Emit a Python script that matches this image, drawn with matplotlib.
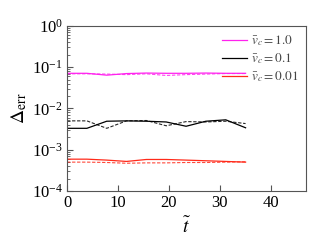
import matplotlib
matplotlib.use("Agg")
import matplotlib.pyplot as plt
import numpy as np

t = [0, 3.9, 7.8, 11.7, 15.6, 19.5, 23.4, 27.3, 31.2, 35.1]
mag_solid = [0.071, 0.071, 0.064, 0.070, 0.072, 0.071, 0.071, 0.072, 0.071, 0.071]
mag_dash = [0.069, 0.069, 0.068, 0.066, 0.069, 0.063, 0.066, 0.068, 0.070, 0.070]
blk_solid = [0.0033, 0.0033, 0.0049, 0.0050, 0.0049, 0.0047, 0.0037, 0.0049, 0.0053, 0.0034]
blk_dash = [0.0050, 0.0050, 0.0033, 0.0050, 0.0051, 0.0038, 0.0048, 0.0047, 0.0049, 0.0043]
red_solid = [0.00059, 0.00059, 0.00056, 0.00052, 0.00058, 0.00058, 0.00056, 0.00054, 0.00052, 0.00050]
red_dash = [0.00050, 0.00050, 0.00049, 0.00047, 0.00048, 0.00048, 0.00049, 0.00049, 0.00050, 0.00051]
labels = [r"$\bar{v}_c = 1.0$", r"$\bar{v}_c = 0.1$", r"$\bar{v}_c = 0.01$"]

plt.rcParams['font.family'] = ['Liberation Serif', 'DejaVu Serif']
plt.rcParams['mathtext.fontset'] = 'stix'

fig = plt.figure(figsize=(3.32, 2.49), dpi=100)
ax = fig.add_axes([0.202, 0.233, 0.720, 0.663])

cols = ['#ff22ee', 'black', '#ff2a1a']
for s, d, c, lab in zip([mag_solid, blk_solid, red_solid], [mag_dash, blk_dash, red_dash], cols, labels):
    ax.plot(t, s, color=c, lw=0.9, label=lab)
    ax.plot(t, d, color=c, lw=0.8, ls=(0, (3, 1.5)), alpha=0.85)

ax.set_yscale('log')
ax.set_ylim(1e-4, 1)
ax.set_xlim(0, 47)
ax.set_xticks([0, 10, 20, 30, 40])
ax.tick_params(which='both', direction='in', labelsize=12, color='#555555', pad=3)
ax.tick_params(which='major', length=4)
ax.tick_params(which='minor', length=2)
for sp in ax.spines.values():
    sp.set_color('#555555')
ax.set_xlabel(r"$\tilde{t}$", fontsize=14, labelpad=4)
ax.set_ylabel(r"$\Delta_{\rm err}$", fontsize=14, labelpad=2)
leg = ax.legend(loc='upper right', frameon=False, fontsize=9.5, handlelength=1.9,
                handletextpad=0.3, labelspacing=0.25, borderaxespad=0.15)
for txt in leg.get_texts():
    txt.set_color('#444444')

fig.savefig('out.png', dpi=100)
